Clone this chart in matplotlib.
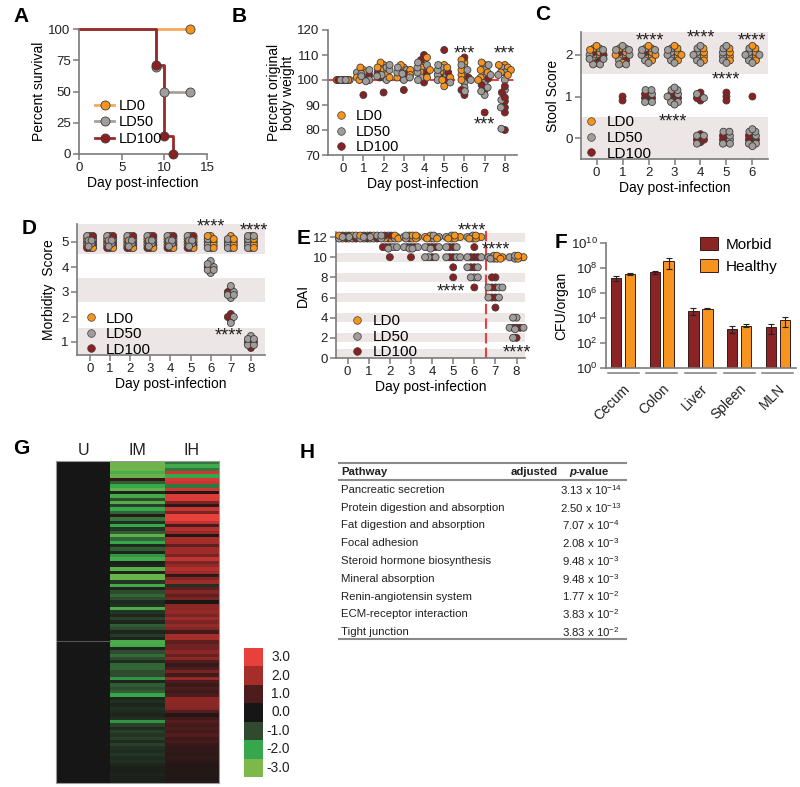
import numpy as np
import matplotlib
matplotlib.use('Agg')
import matplotlib.pyplot as plt
from matplotlib import transforms
from matplotlib.colors import LinearSegmentedColormap, ListedColormap
from matplotlib.lines import Line2D
from matplotlib.patches import Patch
from matplotlib.ticker import NullLocator

plt.rcParams['font.family'] = ['Liberation Sans', 'DejaVu Sans']
plt.rcParams['mathtext.fontset'] = 'custom'
plt.rcParams['mathtext.rm'] = 'Liberation Sans'
plt.rcParams['mathtext.it'] = 'Liberation Sans:italic'
plt.rcParams['mathtext.bf'] = 'Liberation Sans:bold'

# ---------------- data ----------------
groups = ['LD0', 'LD50', 'LD100']

# A: survival
surv_t_ld0 = [0, 13]
surv_ld0 = [100, 100]
surv_t_ld50 = [0, 9, 10, 13]
surv_ld50 = [100, 70, 50, 50]
surv_t_ld100 = [0, 9, 10, 11]
surv_ld100 = [100, 71.4, 14.3, 0]

# B: percent original body weight, per day 0..8
b_days = [0, 1, 2, 3, 4, 5, 6, 7, 8]
b_ld0 = [[100, 100, 100, 100, 100, 100],
         [104, 102, 103, 101, 105, 100],
         [106, 104, 102, 107, 105, 101],
         [105, 103, 106, 101, 104, 102],
         [107, 105, 103, 109, 101, 104],
         [106, 103, 97.5, 105, 101, 100],
         [107, 105, 102, 108, 100, 104],
         [106, 104, 101, 107, 103, 100],
         [106, 105, 103, 104, 102, 106]]
b_ld50 = [[100, 100, 100, 100, 100, 100, 100, 100],
          [102, 101, 103, 100, 104, 102.5, 101.5, 99.5],
          [103, 101, 105, 100, 104, 102, 106, 101.5],
          [102, 101, 104, 103, 100, 105, 102.5, 101],
          [104, 102, 106, 101, 103, 105, 100, 107],
          [103, 101, 105, 102, 100, 104, 99, 106],
          [103, 101, 99, 97, 95.5, 104, 100, 106],
          [104, 101, 99, 97, 94, 106, 102, 95.5],
          [105, 103, 100, 96, 92, 89, 80.5, 102]]
b_ld100 = [[100, 100, 100, 100, 100],
           [94, 100.5, 102],
           [95, 101, 103],
           [96, 101, 102.5],
           [110, 108, 99, 103],
           [112, 103, 101, 100],
           [109, 94, 101, 96],
           [87, 96, 98, 100.5],
           [80, 87, 89, 91.5, 93, 95, 97.5]]

# C: stool score, per day 0..6
c_days = [0, 1, 2, 3, 4, 5, 6]
c_ld0 = [[2, 2, 2, 2, 2, 2], [2, 2, 2, 2, 2, 2], [2, 2, 2, 2, 2, 2, 2], [2, 2, 2, 2, 2, 2, 2, 2],
         [2, 2, 2, 2, 2, 2], [2, 2, 2, 2, 2, 2], [2, 2, 2, 2, 2, 2, 2]]
c_ld50 = [[2, 2, 2, 2, 2, 2, 2, 2, 2, 2], [2, 2, 2, 2, 2, 2, 2, 2, 2, 2],
          [2, 2, 2, 2, 2, 2, 2, 2, 1, 1, 1, 1, 1], [2, 2, 2, 2, 2, 2, 2, 2, 1, 1, 1, 1, 1, 1, 1, 1],
          [2, 2, 2, 2, 2, 2, 2, 2, 1, 1, 0, 0, 0], [2, 2, 2, 2, 2, 2, 2, 0, 0, 0, 0, 0, 0],
          [2, 2, 2, 2, 2, 2, 2, 2, 0, 0, 0, 0, 0, 0, 0]]
c_ld100 = [[2, 2, 2, 2, 2], [2, 2, 2, 1, 1], [2, 2, 1, 1, 1, 1, 1, 1], [1, 1, 1, 1, 1, 1],
           [1, 1, 1, 1, 0, 0, 0, 0, 0], [1, 1, 1, 0, 0, 0, 0, 0], [1, 0, 0, 0, 0, 0, 0]]

# D: morbidity score, per day 0..8
d_days = [0, 1, 2, 3, 4, 5, 6, 7, 8]
d_ld0 = [[5, 5, 5, 5, 5, 5]] * 6 + [[5, 5, 5, 5, 5, 5, 5, 5], [5, 5, 5, 5, 5, 5, 5], [5, 5, 5, 5, 5, 5, 5]]
d_ld50 = [[5, 5, 5, 5, 5, 5, 5, 5, 5]] * 6 + [[5, 5, 5, 5, 5, 5, 4, 4, 4, 4, 4, 4],
                                               [5, 5, 5, 5, 5, 5, 3, 3, 3, 3, 3, 2, 2],
                                               [5, 5, 5, 5, 5, 5, 5, 5, 1, 1, 1, 1, 1]]
d_ld100 = [[5, 5, 5, 5, 5]] * 6 + [[4, 4, 4, 4], [3, 3, 3, 3, 2, 2, 2, 2], [1, 1, 1, 1, 1, 1]]

# E: disease activity index, per day 0..8
e_days = [0, 1, 2, 3, 4, 5, 6, 7, 8]
e_ld0 = [[12, 12, 12, 12, 12, 12]] * 7 + [[10, 10, 10, 10, 10, 10], [10, 10, 10, 10, 10]]
e_ld50 = [[12, 12, 12, 12, 12, 12, 12, 12], [12, 12, 12, 12, 12, 12, 12, 12],
          [12, 12, 12, 12, 12, 12, 11, 11, 11], [12, 12, 12, 12, 12, 11, 11, 11, 11],
          [12, 12, 12, 12, 11, 11, 11, 10, 10, 10], [12, 12, 12, 12, 11, 11, 10, 10, 10],
          [12, 12, 12, 12, 10, 10, 9, 9, 8, 8, 8], [10, 10, 10, 10, 10, 7, 7, 7, 6, 6],
          [10, 10, 10, 10, 4, 4, 3, 3, 3, 2]]
e_ld100 = [[12, 12, 12, 12, 12, 12], [12, 12, 12, 12, 12, 12], [12, 12, 12, 12, 11, 11, 11, 10],
           [12, 12, 11, 11, 11, 10], [12, 11, 11, 11, 10], [11, 11, 10, 10, 9, 8],
           [11, 10, 10, 10, 9, 9, 7], [8, 8, 7, 7, 6, 6, 5], [3, 3, 3, 2]]

# F: CFU per organ
organs = ['Cecum', 'Colon', 'Liver', 'Spleen', 'MLN']
f_morbid = [1.6e7, 4.8e7, 3.9e4, 1.4e3, 1.9e3]
f_morbid_err = [0.7e7, 1.2e7, 2.0e4, 0.8e3, 1.4e3]
f_healthy = [3.5e7, 3.4e8, 5.6e4, 2.5e3, 6.5e3]
f_healthy_err = [0.5e7, 2.5e8, 0.8e4, 0.6e3, 4.5e3]

# G: heatmap (rows top to bottom)
g_cols = ['U', 'IM', 'IH']
g_im = [-2.8, -2.8, -2.8, -2.3, -2.7, 0.5, -1.2, -2.0, -2.6, -0.3, -2.2, -1.0, -2.4, -0.8, -2.0, -1.3,
        0.4, -1.5, -0.5, -2.0, -0.6, -1.2, -2.6, -1.3, -2.0, -0.4, -1.2, -0.3, -1.8, -2.2, -0.2,
        -0.3, -2.5, -0.3, -2.7, -2.7, -0.6, -2.2, -0.3, -1.0, -1.3, -1.0, -0.4, -0.5, -2.3, -0.6,
        -0.3, -0.8, -0.3, -1.2, -1.0, -0.3, -0.7, -0.3, -2.3, -2.2, -0.3, -1.0, -1.4, -1.0, -0.4,
        -1.3, -1.3, -1.0, -1.0, -1.8, -0.3, -1.2, -1.0, -1.2, -2.0, -0.3, -0.5, -0.3, -0.5, -0.4,
        -0.3, -0.5, -1.8, -0.8, -0.4, -0.8, -0.6, -0.8, -0.4, -0.8, -0.5, -0.4, -0.6, -0.4, -0.5,
        -0.3, -0.2, -0.2, -0.3, -0.2, -0.2]
g_ih = [-1.5, -2.2, -1.5, 2.6, -2.0, 2.7, 2.5, -1.5, 2.6, 0.3, 2.8, 2.8, 1.5, 0.4, 2.5, 1.5,
        3.0, 3.0, 2.4, 0.9, 2.2, 1.8, 0.3, 2.0, 2.0, 1.2, 1.9, 1.9, 1.5, 2.4, 1.5,
        1.8, 2.2, 1.9, 0.5, 1.6, 1.9, -0.5, 1.2, 1.6, 1.2, 1.5, 0.1, 1.7, 1.7, 1.8,
        1.5, 1.9, 1.5, 1.8, 1.6, 0.8, 2.0, 2.0, 1.2, 1.4, 1.4, 1.7, 1.3, 1.7, 1.0,
        0.6, 1.0, 1.5, 0.8, 1.8, 1.0, 0.7, 1.0, 0.7, 1.0, 1.7, 1.7, 1.7, 1.6, 1.1,
        0.3, 0.8, 1.1, 0.8, 1.0, 0.8, 1.1, 0.7, 0.9, 0.6, 0.5, 0.5, 0.4, 0.5, 0.4,
        0.3, 0.3, 0.2, 0.3, 0.2, 0.2]
g_u = [0.0] * len(g_im)
cb_levels = [3.0, 2.0, 1.0, 0.0, -1.0, -2.0, -3.0]
cb_colors = ['#e8403a', '#a52e2b', '#4d1c1c', '#161616', '#2f4a2f', '#36a74c', '#7cb84a']

# H: table
pathways = ['Pancreatic secretion', 'Protein digestion and absorption', 'Fat digestion and absorption',
            'Focal adhesion', 'Steroid hormone biosynthesis', 'Mineral absorption',
            'Renin-angiotensin system', 'ECM-receptor interaction', 'Tight junction']
p_mant = ['3.13', '2.50', '7.07', '2.08', '9.48', '9.48', '1.77', '3.83', '3.83']
p_exp = [-14, -13, -4, -3, -3, -3, -2, -2, -2]

# ---------------- style ----------------
ORANGE = '#f7941d'
GRAY = '#a19d9b'
RED = '#8c1f1f'
EDGE = '#3d3d3d'
SPINE = '#7a7a7a'
TXT = '#231f20'
BAND = '#ece6e6'
gcolors = [ORANGE, GRAY, RED]

W, H = 800, 787
fig = plt.figure(figsize=(8, 7.87), dpi=100)


def box(l, t, r, b):
    return [l / W, 1 - b / H, (r - l) / W, (b - t) / H]


def style(ax):
    for s in ['top', 'right']:
        ax.spines[s].set_visible(False)
    for s in ['left', 'bottom']:
        ax.spines[s].set_color(SPINE)
        ax.spines[s].set_linewidth(1.2)
    ax.tick_params(colors=SPINE, labelcolor=TXT, labelsize=9.5, length=4, width=1.1, pad=2)


def pack(ax, x0, ys, capx, capy, d):
    tr = ax.transData
    gx = np.arange(-capx, capx + 0.01, 0.5)
    gy = np.arange(-capy, capy + 0.01, 0.5) if capy else np.array([0.0])
    gx, gy = np.meshgrid(gx, gy)
    gx, gy = gx.ravel(), gy.ravel()
    rank = (gx / capx) ** 2 + ((gy / capy) ** 2 if capy else 0)
    order = np.argsort(rank, kind='stable')
    gx, gy = gx[order], gy[order]
    placed = []
    for y in ys:
        cx, cy = tr.transform((x0, y))
        px, py = cx + gx, cy + gy
        if placed:
            P = np.array(placed)
            dist = np.sqrt((px[:, None] - P[:, 0]) ** 2 + (py[:, None] - P[:, 1]) ** 2).min(axis=1)
            ok = np.nonzero(dist >= d)[0]
            i = ok[0] if len(ok) else np.argmax(dist)
        else:
            i = 0
        placed.append((px[i], py[i]))
    return tr.inverted().transform(np.array(placed))


def swarm(ax, days, data, capx, capy, d):
    for k, day in enumerate(days):
        vals, cols = [], []
        n = max(len(g[k]) for g in data)
        for i in range(n):
            for g, c in zip(data, gcolors):
                if i < len(g[k]):
                    vals.append(g[k][i])
                    cols.append(c)
        xy = pack(ax, day, vals, capx, capy, d)
        ax.scatter(xy[:, 0], xy[:, 1], s=25, c=cols, edgecolors=EDGE, linewidths=0.6,
                   zorder=3, clip_on=False)


def stars(ax, x, y, n):
    tr = transforms.offset_copy(ax.transData, fig=fig, y=-7.5, units='points')
    ax.text(x, y, '*' * n, transform=tr, ha='center', va='baseline', fontsize=13,
            color=TXT, clip_on=False)


def dot_legend(ax, anchor, size=10.5):
    h = [Line2D([], [], marker='o', ls='none', mfc=c, mec=EDGE, mew=0.5, ms=5.5) for c in gcolors]
    ax.legend(h, groups, loc='lower left', bbox_to_anchor=anchor, frameon=False, fontsize=size,
              handletextpad=0.5, labelspacing=0.1, borderaxespad=0, handlelength=1.0)


def letter(x, y, s):
    fig.text(x / W, 1 - y / H, s, fontsize=15, fontweight='bold', va='center', ha='left')


# ---------------- A ----------------
ax = fig.add_axes(box(79, 29, 207, 154))
style(ax)
for t, s, c, lc in [(surv_t_ld0, surv_ld0, ORANGE, '#f6a85a'),
                    (surv_t_ld50, surv_ld50, GRAY, '#a8a09e'),
                    (surv_t_ld100, surv_ld100, RED, '#9b2a2a')]:
    ax.step(t, s, where='post', color=lc, lw=2, clip_on=False)
    ax.plot(t[1:], s[1:], 'o', mfc=c, mec=EDGE, mew=0.6, ms=6.5, clip_on=False, zorder=4)
ax.set_xlim(0, 15)
ax.set_ylim(0, 100)
ax.set_xticks([0, 5, 10, 15])
ax.set_yticks([0, 25, 50, 75, 100])
ax.set_xlabel('Day post-infection', fontsize=10, labelpad=1)
ax.set_ylabel('Percent survival', fontsize=10, labelpad=2)
ah = [Line2D([], [], color=lc, lw=2, marker='o', mfc=c, mec=EDGE, mew=0.6, ms=6.5)
      for c, lc in [(ORANGE, '#f6a85a'), (GRAY, '#a8a09e'), (RED, '#9b2a2a')]]
ax.legend(ah, groups, loc='lower left', bbox_to_anchor=(0.08, 0.02), frameon=False, fontsize=10.5,
          handletextpad=0.3, labelspacing=0.15, borderaxespad=0, handlelength=1.3)
letter(13, 17, 'A')

# ---------------- B ----------------
ax = fig.add_axes(box(328, 30, 517, 155))
style(ax)
ax.set_xlim(-0.75, 8.6)
ax.set_ylim(70, 120)
ax.axhline(100, color='#e8403a', lw=1.5, dashes=(5, 2), zorder=2)
swarm(ax, b_days, [b_ld0, b_ld50, b_ld100], 6.5, 0, 3.6)
ax.set_xticks(b_days)
ax.set_yticks([70, 80, 90, 100, 110, 120])
ax.set_xlabel('Day post-infection', fontsize=10, labelpad=1)
ax.set_ylabel('Percent original\nbody weight', fontsize=10, labelpad=2, linespacing=1.0)
stars(ax, 6, 112.7, 3)
stars(ax, 8, 112.7, 3)
stars(ax, 7, 84.4, 3)
dot_legend(ax, (0.0, -0.04))
letter(232, 17, 'B')

# ---------------- C ----------------
ax = fig.add_axes(box(581, 32, 768, 159))
style(ax)
ax.set_xlim(-0.6, 6.6)
ax.set_ylim(-0.5, 2.55)
ax.axhspan(1.53, 2.55, color=BAND, zorder=0, lw=0)
ax.axhspan(-0.5, 0.5, color=BAND, zorder=0, lw=0)
swarm(ax, c_days, [c_ld0, c_ld50, c_ld100], 7, 10, 3.8)
ax.set_xticks(c_days)
ax.set_yticks([0, 1, 2])
ax.set_xlabel('Day post-infection', fontsize=10, labelpad=1)
ax.set_ylabel('Stool Score', fontsize=10, labelpad=4)
stars(ax, 2.04, 2.48, 4)
stars(ax, 4.01, 2.55, 4)
stars(ax, 6.0, 2.48, 4)
stars(ax, 4.98, 1.55, 4)
stars(ax, 2.95, 0.52, 4)
dot_legend(ax, (-0.02, -0.06), 11)
letter(535, 15, 'C')

# ---------------- D ----------------
ax = fig.add_axes(box(77, 224, 265, 355))
style(ax)
ax.set_xlim(-0.65, 8.7)
ax.set_ylim(0.48, 5.72)
ax.axhspan(4.52, 5.72, color=BAND, zorder=0, lw=0)
ax.axhspan(2.6, 3.58, color=BAND, zorder=0, lw=0)
ax.axhspan(0.48, 1.56, color=BAND, zorder=0, lw=0)
swarm(ax, d_days, [d_ld0, d_ld50, d_ld100], 4, 7, 3)
ax.set_xticks(d_days)
ax.set_yticks([1, 2, 3, 4, 5])
ax.set_xlabel('Day post-infection', fontsize=10, labelpad=1)
ax.set_ylabel('Morbidity  Score', fontsize=10, labelpad=4)
stars(ax, 6.02, 5.83, 4)
stars(ax, 8.13, 5.67, 4)
stars(ax, 6.89, 1.49, 4)
dot_legend(ax, (0.0, -0.06), 11)
letter(22, 228, 'D')

# ---------------- E ----------------
ax = fig.add_axes(box(336, 232, 525, 358))
style(ax)
ax.set_xlim(-0.55, 8.4)
ax.set_ylim(0, 12.5)
for v in [2, 4, 6, 8, 10, 12]:
    ax.axhspan(v - 0.45, v + 0.45, color=BAND, zorder=0, lw=0)
ax.axhspan(0, 0.85, color=BAND, zorder=0, lw=0)
ax.axvline(6.55, ymax=1.02, color='#e8403a', lw=1.5, dashes=(5, 2), zorder=2, clip_on=False)
swarm(ax, e_days, [e_ld0, e_ld50, e_ld100], 8.5, 1.5, 3.4)
ax.set_xticks(e_days)
ax.set_yticks([0, 2, 4, 6, 8, 10, 12])
ax.set_xlabel('Day post-infection', fontsize=10, labelpad=1)
ax.set_ylabel('DAI', fontsize=10, labelpad=2)
stars(ax, 5.87, 13.17, 4)
stars(ax, 7.04, 11.3, 4)
stars(ax, 4.9, 7.18, 4)
stars(ax, 8.03, 1.1, 4)
dot_legend(ax, (0.04, -0.06), 11)
letter(297, 238, 'E')

# ---------------- F ----------------
ax = fig.add_axes(box(606, 243, 796, 368))
style(ax)
xf = np.arange(len(organs))
ax.bar(xf - 0.18, f_morbid, 0.27, yerr=f_morbid_err, color='#8b2525', edgecolor='#3a1a1a', lw=0.7,
       error_kw=dict(lw=0.8, capsize=2, capthick=0.8, ecolor='#222222'), label='Morbid')
ax.bar(xf + 0.18, f_healthy, 0.27, yerr=f_healthy_err, color=ORANGE, edgecolor='#3a1a1a', lw=0.7,
       error_kw=dict(lw=0.8, capsize=2, capthick=0.8, ecolor='#222222'), label='Healthy')
ax.set_yscale('log')
ax.set_ylim(1, 1e10)
ax.set_xlim(-0.44, 4.47)
ax.set_yticks([1e0, 1e2, 1e4, 1e6, 1e8, 1e10])
ax.yaxis.set_minor_locator(NullLocator())
ax.set_xticks(xf)
ax.set_xticklabels(organs, rotation=45, ha='right', rotation_mode='anchor', fontsize=10)
ax.tick_params(axis='x', length=0, pad=10)
ax.set_ylabel('CFU/organ', fontsize=10, labelpad=2)
for x in xf:
    ax.plot([x - 0.4, x + 0.4], [-0.04, -0.04], transform=ax.get_xaxis_transform(),
            color=SPINE, lw=1.1, clip_on=False)
fh = [Patch(facecolor='#8b2525', edgecolor='#3a1a1a', lw=0.7),
      Patch(facecolor=ORANGE, edgecolor='#3a1a1a', lw=0.7)]
ax.legend(fh, ['Morbid', 'Healthy'], loc='upper left', bbox_to_anchor=(0.46, 1.1), frameon=False,
          fontsize=11, handlelength=1.2, handleheight=1.0, handletextpad=0.5, labelspacing=0.45,
          borderaxespad=0)
letter(555, 242, 'F')

# ---------------- G ----------------
ax = fig.add_axes(box(56, 461, 219, 783))
heat = np.array([g_u, g_im, g_ih]).T
cmap = LinearSegmentedColormap.from_list('gr', cb_colors[::-1])
ax.imshow(heat, cmap=cmap, vmin=-3, vmax=3, aspect='auto', interpolation='nearest')
ax.axhline(53.7, xmin=0, xmax=1 / 3, color='#555555', lw=0.8)
ax.xaxis.tick_top()
ax.set_xticks(range(3))
ax.set_xticklabels(g_cols, fontsize=11.5, color=TXT)
ax.tick_params(axis='x', length=0, pad=2)
ax.set_yticks([])
for s in ax.spines.values():
    s.set_color('#9a9a9a')
    s.set_linewidth(0.8)
letter(13, 448, 'G')

ax = fig.add_axes(box(244, 648, 263, 777))
ax.imshow(np.array(cb_levels)[:, None], cmap=ListedColormap(cb_colors[::-1]), vmin=-3.5, vmax=3.5,
          aspect='auto', interpolation='nearest')
ax.set_xticks([])
ax.set_yticks([])
for s in ax.spines.values():
    s.set_visible(False)
for i, v in enumerate(cb_levels):
    ax.text(2.42, i, f'{v:.1f}', transform=ax.get_yaxis_transform(), ha='right', va='center',
            fontsize=9.8, color=TXT)

# ---------------- H ----------------
letter(300, 452, 'H')
ax = fig.add_axes(box(338, 455, 627, 645))
ax.set_xlim(338, 627)
ax.set_ylim(645, 455)
ax.axis('off')
for yl in [463, 479.5, 639]:
    ax.plot([338, 627], [yl, yl], color='#8a8a8a', lw=1.5)
ax.text(341, 472, 'Pathway', fontsize=8.2, fontweight='bold', va='center', color=TXT)
ax.text(558, 472, 'adjusted', fontsize=8.2, fontweight='bold', va='center', ha='right', color=TXT)
ax.text(569, 472, 'p', fontsize=8.2, fontweight='bold', style='italic', va='center', color=TXT)
ax.text(575.5, 472, '-value', fontsize=8.2, fontweight='bold', va='center', color=TXT)
for i, (pw, m, e) in enumerate(zip(pathways, p_mant, p_exp)):
    y = 490 + i * 17.75
    ax.text(341, y, pw, fontsize=8.2, va='center', color=TXT)
    ax.text(591, y, f'{m} x 10$^{{{e}}}$', fontsize=8.2, va='center', ha='center', color=TXT)

fig.savefig('out.png', dpi=100)
